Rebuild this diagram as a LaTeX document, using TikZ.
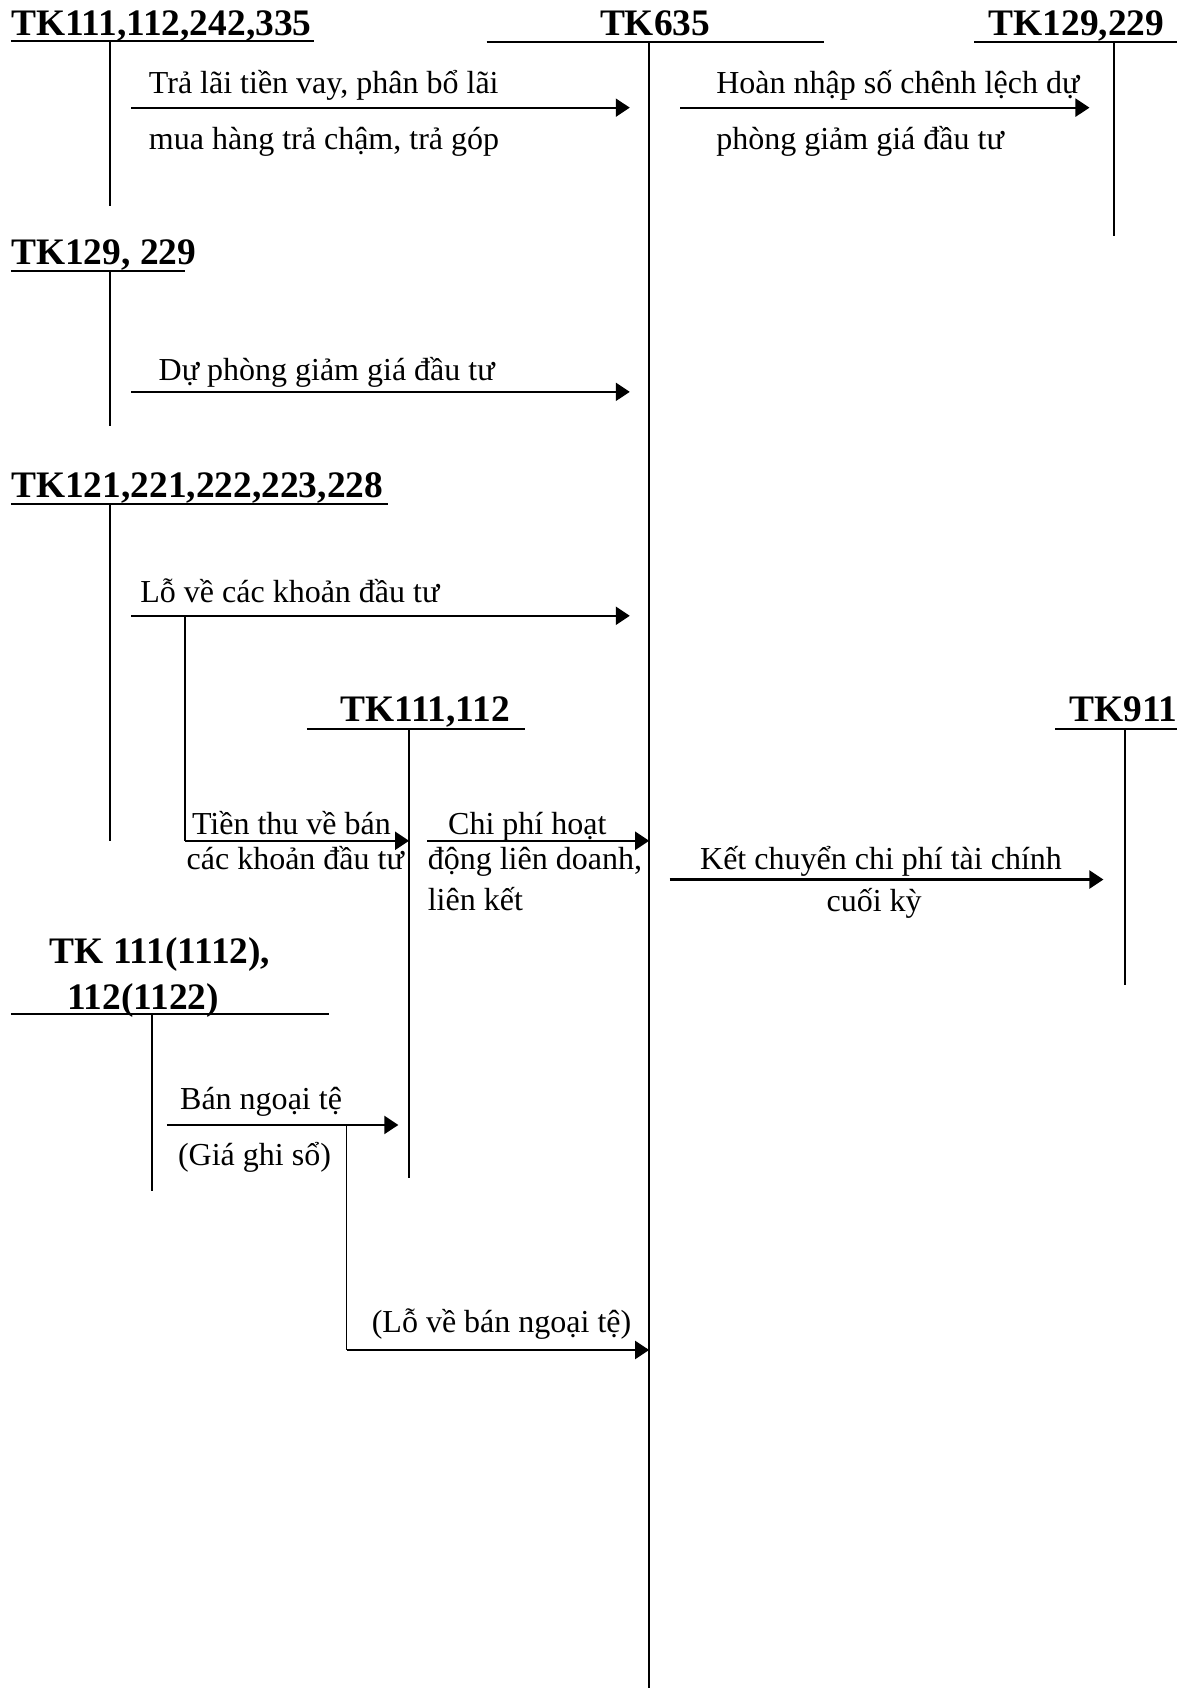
\documentclass[tikz,border=0pt]{standalone}
\usepackage{fontspec}
\setmainfont{Liberation Serif}
\usetikzlibrary{arrows.meta}
\newcommand{\bodyfont}{\fontsize{16}{19}\selectfont}
\newcommand{\headfont}{\fontsize{18.7}{22}\selectfont\bfseries}
\begin{document}
\begin{tikzpicture}[x=0.5382pt,y=-0.5382pt,
  head/.style={font=\headfont, inner sep=0pt, anchor=base west},
  lbl/.style={font=\bodyfont, inner sep=0pt, anchor=base west},
  acct/.style={line width=0.8pt},
  rule/.style={line width=1pt},
  flow/.style={line width=1.1pt, -{Triangle[length=7pt,width=9pt]}},
  branch/.style={line width=0.8pt}]
\useasboundingbox (0,0) rectangle (1099,1568);

% ---------- account headings ----------
\node[head] (hA) at (10,33)   {TK111,112,242,335};
\node[head] (hM) at (557,33)  {TK635};
\node[head] (hB) at (918,33)  {TK129,229};
\node[head] (hC) at (10,246)  {TK129, 229};
\node[head] (hD) at (10,462)  {TK121,221,222,223,228};
\node[head] (hE) at (316,670) {TK111,112};
\node[head] (hF) at (993,670) {TK911};
\node[head] (hG) at (46,895)  {TK 111(1112),};
\node[head] (hG2) at (62,938) {112(1122)};

% ---------- T-account rules ----------
\draw[rule] (10,38) -- (292,38);
\draw[rule] (452,39) -- (765,39);
\draw[rule] (905,39) -- (1093,39);
\draw[rule] (10,252) -- (172,252);
\draw[rule] (10,468) -- (360,468);
\draw[rule] (285,677) -- (488,677);
\draw[rule] (980,677) -- (1093,677);
\draw[rule] (10,942) -- (306,942);

\draw[acct] (102,38)  -- (102,191);
\draw[acct] (603,39)  -- (603,1568);
\draw[acct] (1035,39) -- (1035,219);
\draw[acct] (102,252) -- (102,396);
\draw[acct] (102,468) -- (102,781);
\draw[acct] (380,677) -- (380,1094);
\draw[acct] (1045,677) -- (1045,915);
\draw[acct] (141,942) -- (141,1106);

% ---------- flow end points ----------
\coordinate (a1s) at (122,100);  \coordinate (a1e) at (585,100);
\coordinate (a2s) at (632,100);  \coordinate (a2e) at (1012,100);
\coordinate (a3s) at (122,364);  \coordinate (a3e) at (585,364);
\coordinate (a4s) at (122,572);  \coordinate (a4e) at (585,572);
\coordinate (b4)  at (172,572);  \coordinate (b4d) at (172,781);
\coordinate (b4e) at (380,781);
\coordinate (a5s) at (397,781);  \coordinate (a5e) at (603,781);
\coordinate (a6s) at (622,817);  \coordinate (a6e) at (1025,817);
\coordinate (a7s) at (155,1045); \coordinate (a7e) at (370,1045);
\coordinate (b7)  at (322,1045); \coordinate (b7d) at (322,1254);
\coordinate (b7e) at (603,1254);

% ---------- flows ----------
\draw[flow] (a1s) -- (a1e);
\draw[flow] (a2s) -- (a2e);
\draw[flow] (a3s) -- (a3e);
\draw[flow] (a4s) -- (a4e);
\draw[branch] (b4) -- (b4d);
\draw[flow] (b4d) -- (b4e);
\draw[flow] (a5s) -- (a5e);
\draw[flow] (a6s) -- (a6e);
\draw[flow] (a7s) -- (a7e);
\draw[branch] (b7) -- (b7d);
\draw[flow] (b7d) -- (b7e);

% ---------- labels ----------
\node[lbl] (l1a) at (138,87)  {Trả lãi tiền vay, phân bổ lãi};
\node[lbl] (l1b) at (138,139) {mua hàng trả chậm, trả góp};
\node[lbl] (l2a) at (665,87)  {Hoàn nhập số chênh lệch dự};
\node[lbl] (l2b) at (665,139) {phòng giảm giá đầu tư};
\node[lbl] (l3)  at (147,353) {Dự phòng giảm giá đầu tư};
\node[lbl] (l4)  at (130,560) {Lỗ về các khoản đầu tư};
\node[lbl] (l5a) at (178,775) {Tiền thu về bán};
\node[lbl] (l5b) at (173,808) {các khoản đầu tư};
\node[lbl] (l6a) at (416,775) {Chi phí hoạt};
\node[lbl] (l6b) at (397,808) {động liên doanh,};
\node[lbl] (l6c) at (397,846) {liên kết};
\node[lbl] (l7a) at (650,808) {Kết chuyển chi phí tài chính};
\node[lbl, anchor=base] (l7b) at (812,847) {cuối kỳ};
\node[lbl] (l8a) at (167,1031) {Bán ngoại tệ};
\node[lbl] (l8b) at (165,1083) {(Giá ghi sổ)};
\node[lbl] (l9)  at (345,1238) {(Lỗ về bán ngoại tệ)};
\end{tikzpicture}
\end{document}
